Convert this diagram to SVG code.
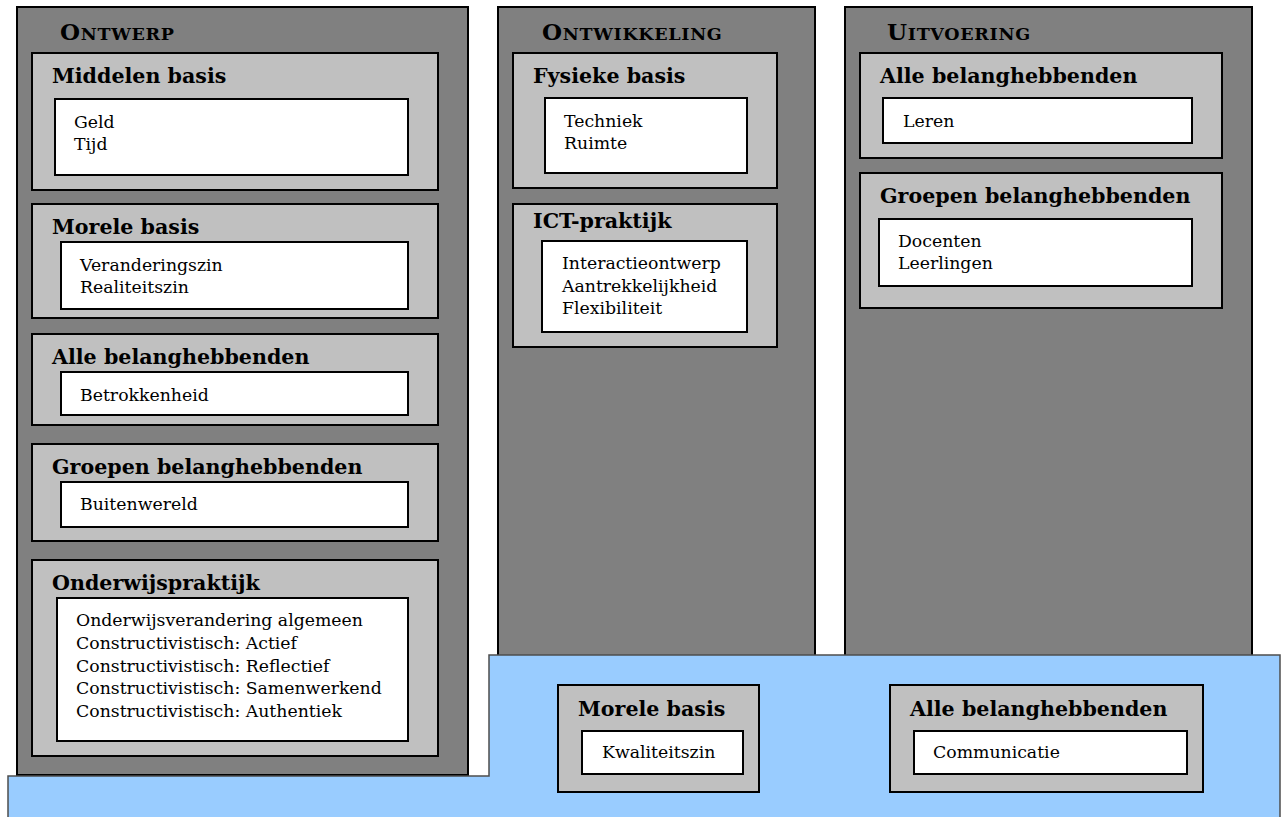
<svg xmlns="http://www.w3.org/2000/svg" width="1285" height="817" viewBox="0 0 1285 817">
<style>
.col{fill:#808080;stroke:#000;stroke-width:2}
.grp{fill:#c0c0c0;stroke:#000;stroke-width:2}
.box{fill:#fff;stroke:#000;stroke-width:2}
.base{fill:#99ccff;stroke:#4d4d4d;stroke-width:1.5}
.h{font-family:"DejaVu Serif","Liberation Serif",serif;font-weight:bold;font-size:20.6px;fill:#000}
.t{font-family:"DejaVu Serif","Liberation Serif",serif;font-size:17.3px;fill:#000}
.ct{font-family:"DejaVu Serif","Liberation Serif",serif;font-weight:bold;font-size:23px;letter-spacing:0.7px;fill:#000}
.sc{font-size:17.5px}
</style>
<rect width="1285" height="817" fill="#fff"/>

<g id="col-ontwikkeling">
<rect class="col" x="498" y="7" width="317" height="700"/>
<text class="ct" x="542" y="40">O<tspan class="sc">NTWIKKELING</tspan></text>
</g>
<g id="col-uitvoering">
<rect class="col" x="845" y="7" width="407" height="700"/>
<text class="ct" x="887" y="40">U<tspan class="sc">ITVOERING</tspan></text>
</g>
<g id="col-ontwerp">
<rect class="col" x="17" y="7" width="451" height="768"/>
<text class="ct" x="60" y="40">O<tspan class="sc">NTWERP</tspan></text>
</g>

<g id="basis">
<polygon class="base" points="8,776 489,776 489,655 1280,655 1280,820 8,820"/>
</g>

<g id="ontwerp-middelen">
<rect class="grp" x="32" y="53" width="406" height="137"/>
<text class="h" x="52" y="83">Middelen basis</text>
<rect class="box" x="55" y="99" width="353" height="76"/>
<text class="t" x="74" y="128">Geld</text>
<text class="t" x="74" y="150">Tijd</text>
</g>
<g id="ontwerp-morele">
<rect class="grp" x="32" y="204" width="406" height="114"/>
<text class="h" x="52" y="234">Morele basis</text>
<rect class="box" x="61" y="242" width="347" height="67"/>
<text class="t" x="80" y="271">Veranderingszin</text>
<text class="t" x="80" y="293">Realiteitszin</text>
</g>
<g id="ontwerp-alle">
<rect class="grp" x="32" y="334" width="406" height="91"/>
<text class="h" x="52" y="364">Alle belanghebbenden</text>
<rect class="box" x="61" y="372" width="347" height="43"/>
<text class="t" x="80" y="401">Betrokkenheid</text>
</g>
<g id="ontwerp-groepen">
<rect class="grp" x="32" y="444" width="406" height="97"/>
<text class="h" x="52" y="474">Groepen belanghebbenden</text>
<rect class="box" x="61" y="482" width="347" height="45"/>
<text class="t" x="80" y="510">Buitenwereld</text>
</g>
<g id="ontwerp-onderwijs">
<rect class="grp" x="32" y="560" width="406" height="196"/>
<text class="h" x="52" y="590">Onderwijspraktijk</text>
<rect class="box" x="57" y="598" width="351" height="143"/>
<text class="t" x="76" y="626">Onderwijsverandering algemeen</text>
<text class="t" x="76" y="649">Constructivistisch: Actief</text>
<text class="t" x="76" y="672">Constructivistisch: Reflectief</text>
<text class="t" x="76" y="694">Constructivistisch: Samenwerkend</text>
<text class="t" x="76" y="717">Constructivistisch: Authentiek</text>
</g>

<g id="ontwikkeling-fysiek">
<rect class="grp" x="513" y="53" width="264" height="135"/>
<text class="h" x="533" y="83">Fysieke basis</text>
<rect class="box" x="545" y="98" width="202" height="75"/>
<text class="t" x="564" y="127">Techniek</text>
<text class="t" x="564" y="149">Ruimte</text>
</g>
<g id="ontwikkeling-ict">
<rect class="grp" x="513" y="204" width="264" height="143"/>
<text class="h" x="533" y="228">ICT-praktijk</text>
<rect class="box" x="542" y="241" width="205" height="91"/>
<text class="t" x="562" y="269">Interactieontwerp</text>
<text class="t" x="562" y="292">Aantrekkelijkheid</text>
<text class="t" x="562" y="314">Flexibiliteit</text>
</g>

<g id="uitvoering-alle">
<rect class="grp" x="860" y="53" width="362" height="105"/>
<text class="h" x="880" y="83">Alle belanghebbenden</text>
<rect class="box" x="883" y="98" width="309" height="45"/>
<text class="t" x="903" y="127">Leren</text>
</g>
<g id="uitvoering-groepen">
<rect class="grp" x="860" y="173" width="362" height="135"/>
<text class="h" x="880" y="203">Groepen belanghebbenden</text>
<rect class="box" x="879" y="219" width="313" height="67"/>
<text class="t" x="898" y="247">Docenten</text>
<text class="t" x="898" y="269">Leerlingen</text>
</g>

<g id="basis-morele">
<rect class="grp" x="558" y="685" width="201" height="107"/>
<text class="h" x="578" y="716">Morele basis</text>
<rect class="box" x="582" y="731" width="161" height="43"/>
<text class="t" x="602" y="758">Kwaliteitszin</text>
</g>
<g id="basis-alle">
<rect class="grp" x="890" y="685" width="313" height="107"/>
<text class="h" x="910" y="716">Alle belanghebbenden</text>
<rect class="box" x="914" y="731" width="273" height="43"/>
<text class="t" x="933" y="758">Communicatie</text>
</g>

<g id="connectors"></g>
</svg>
